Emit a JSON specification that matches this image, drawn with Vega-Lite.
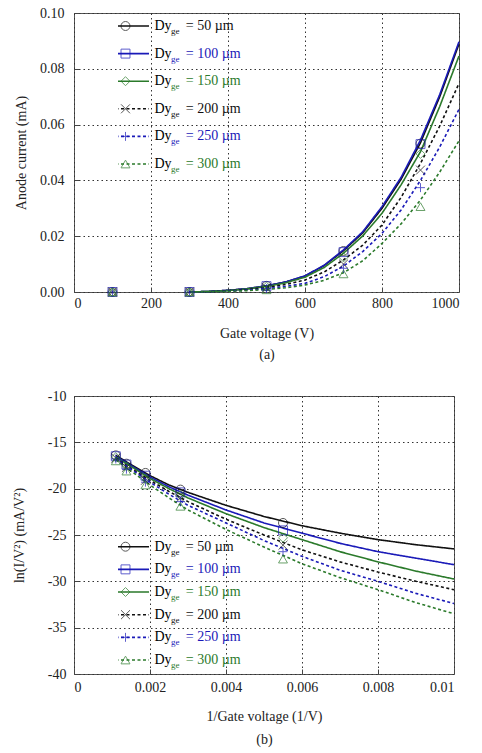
{
  "$schema": "https://vega.github.io/schema/vega-lite/v6.json",
  "autosize": {"type": "pad"},
  "padding": {"left": 11, "top": 5, "right": 0, "bottom": 0},
  "bounds": "flush",
  "spacing": 104,
  "config": {
    "font": "Liberation Serif",
    "view": {"stroke": "#555555", "strokeWidth": 1},
    "axis": {
      "labelFont": "Liberation Serif", "labelFontSize": 14, "labelColor": "#222222",
      "titleFont": "Liberation Serif", "titleFontSize": 14, "titleFontWeight": "normal", "titleColor": "#222222",
      "gridColor": "#333333", "gridDash": [1.5, 3], "gridOpacity": 1, "gridWidth": 1,
      "domain": false, "ticks": true, "tickSize": -5, "tickColor": "#444444", "tickWidth": 1
    },
    "legend": {"labelFont": "Liberation Serif"}
  },
  "datasets": {
    "topLines": [
      {"V":300,"I":0,"series":"50"},{"V":350,"I":0.0002,"series":"50"},{"V":400,"I":0.0006,"series":"50"},{"V":450,"I":0.0012,"series":"50"},{"V":500,"I":0.0022,"series":"50"},{"V":550,"I":0.0036,"series":"50"},{"V":600,"I":0.0057,"series":"50"},{"V":650,"I":0.0095,"series":"50"},{"V":700,"I":0.0148,"series":"50"},{"V":750,"I":0.0212,"series":"50"},{"V":800,"I":0.0300,"series":"50"},{"V":850,"I":0.0405,"series":"50"},{"V":900,"I":0.0535,"series":"50"},{"V":950,"I":0.0700,"series":"50"},{"V":1000,"I":0.0889,"series":"50"},
      {"V":300,"I":0,"series":"100"},{"V":350,"I":0.0002,"series":"100"},{"V":400,"I":0.0006,"series":"100"},{"V":450,"I":0.0012,"series":"100"},{"V":500,"I":0.0022,"series":"100"},{"V":550,"I":0.0036,"series":"100"},{"V":600,"I":0.0058,"series":"100"},{"V":650,"I":0.0096,"series":"100"},{"V":700,"I":0.0151,"series":"100"},{"V":750,"I":0.0216,"series":"100"},{"V":800,"I":0.0306,"series":"100"},{"V":850,"I":0.0412,"series":"100"},{"V":900,"I":0.0545,"series":"100"},{"V":950,"I":0.0708,"series":"100"},{"V":1000,"I":0.0897,"series":"100"},
      {"V":300,"I":0,"series":"150"},{"V":350,"I":0.0002,"series":"150"},{"V":400,"I":0.0005,"series":"150"},{"V":450,"I":0.0011,"series":"150"},{"V":500,"I":0.0020,"series":"150"},{"V":550,"I":0.0033,"series":"150"},{"V":600,"I":0.0053,"series":"150"},{"V":650,"I":0.0088,"series":"150"},{"V":700,"I":0.0139,"series":"150"},{"V":750,"I":0.0201,"series":"150"},{"V":800,"I":0.0282,"series":"150"},{"V":850,"I":0.0385,"series":"150"},{"V":900,"I":0.0503,"series":"150"},{"V":950,"I":0.0665,"series":"150"},{"V":1000,"I":0.0846,"series":"150"},
      {"V":300,"I":0,"series":"200"},{"V":350,"I":0.0001,"series":"200"},{"V":400,"I":0.0004,"series":"200"},{"V":450,"I":0.0009,"series":"200"},{"V":500,"I":0.0016,"series":"200"},{"V":550,"I":0.0027,"series":"200"},{"V":600,"I":0.0043,"series":"200"},{"V":650,"I":0.0072,"series":"200"},{"V":700,"I":0.0115,"series":"200"},{"V":750,"I":0.0168,"series":"200"},{"V":800,"I":0.0240,"series":"200"},{"V":850,"I":0.0340,"series":"200"},{"V":900,"I":0.0461,"series":"200"},{"V":950,"I":0.0595,"series":"200"},{"V":1000,"I":0.0748,"series":"200"},
      {"V":300,"I":0,"series":"250"},{"V":350,"I":0.0001,"series":"250"},{"V":400,"I":0.0003,"series":"250"},{"V":450,"I":0.0007,"series":"250"},{"V":500,"I":0.0012,"series":"250"},{"V":550,"I":0.0020,"series":"250"},{"V":600,"I":0.0031,"series":"250"},{"V":650,"I":0.0055,"series":"250"},{"V":700,"I":0.0093,"series":"250"},{"V":750,"I":0.0145,"series":"250"},{"V":800,"I":0.0210,"series":"250"},{"V":850,"I":0.0295,"series":"250"},{"V":900,"I":0.0400,"series":"250"},{"V":950,"I":0.0520,"series":"250"},{"V":1000,"I":0.0655,"series":"250"},
      {"V":300,"I":0,"series":"300"},{"V":350,"I":0.0001,"series":"300"},{"V":400,"I":0.0002,"series":"300"},{"V":450,"I":0.0005,"series":"300"},{"V":500,"I":0.0009,"series":"300"},{"V":550,"I":0.0015,"series":"300"},{"V":600,"I":0.0025,"series":"300"},{"V":650,"I":0.0042,"series":"300"},{"V":700,"I":0.0069,"series":"300"},{"V":750,"I":0.0112,"series":"300"},{"V":800,"I":0.0174,"series":"300"},{"V":850,"I":0.0245,"series":"300"},{"V":900,"I":0.0330,"series":"300"},{"V":950,"I":0.0430,"series":"300"},{"V":1000,"I":0.0542,"series":"300"}
    ],
    "topPts": [
      {"V":100,"I":0,"mk":"p50"},{"V":300,"I":0,"mk":"p50"},{"V":500,"I":0.0022,"mk":"p50"},{"V":700,"I":0.0147,"mk":"p50"},{"V":900,"I":0.0532,"mk":"p50"},
      {"V":100,"I":0,"mk":"p100"},{"V":300,"I":0,"mk":"p100"},{"V":500,"I":0.0021,"mk":"p100"},{"V":700,"I":0.0143,"mk":"p100"},{"V":900,"I":0.0530,"mk":"p100"},
      {"V":100,"I":0,"mk":"p150"},{"V":300,"I":0,"mk":"p150"},{"V":500,"I":0.0019,"mk":"p150"},{"V":700,"I":0.0124,"mk":"p150"},{"V":900,"I":0.0495,"mk":"p150"},
      {"V":100,"I":0,"mk":"p200"},{"V":300,"I":0,"mk":"p200"},{"V":500,"I":0.0015,"mk":"p200"},{"V":700,"I":0.0100,"mk":"p200"},{"V":900,"I":0.0437,"mk":"p200"},
      {"V":100,"I":0,"mk":"p250"},{"V":300,"I":0,"mk":"p250"},{"V":500,"I":0.0012,"mk":"p250"},{"V":700,"I":0.0085,"mk":"p250"},{"V":900,"I":0.0374,"mk":"p250"},
      {"V":100,"I":0,"mk":"p300"},{"V":300,"I":0,"mk":"p300"},{"V":500,"I":0.0008,"mk":"p300"},{"V":700,"I":0.0065,"mk":"p300"},{"V":900,"I":0.0306,"mk":"p300"}
    ],
    "botLines": [
      {"x":0.0011,"y":-16.4,"series":"50"},{"x":0.0015,"y":-17.4,"series":"50"},{"x":0.002,"y":-18.6,"series":"50"},{"x":0.0025,"y":-19.6,"series":"50"},{"x":0.003,"y":-20.4,"series":"50"},{"x":0.004,"y":-21.8,"series":"50"},{"x":0.005,"y":-23.0,"series":"50"},{"x":0.006,"y":-24.0,"series":"50"},{"x":0.007,"y":-24.8,"series":"50"},{"x":0.008,"y":-25.5,"series":"50"},{"x":0.009,"y":-26.05,"series":"50"},{"x":0.01,"y":-26.5,"series":"50"},
      {"x":0.0011,"y":-16.5,"series":"100"},{"x":0.0015,"y":-17.5,"series":"100"},{"x":0.002,"y":-18.75,"series":"100"},{"x":0.0025,"y":-19.8,"series":"100"},{"x":0.003,"y":-20.7,"series":"100"},{"x":0.004,"y":-22.3,"series":"100"},{"x":0.005,"y":-23.7,"series":"100"},{"x":0.006,"y":-24.8,"series":"100"},{"x":0.007,"y":-25.9,"series":"100"},{"x":0.008,"y":-26.8,"series":"100"},{"x":0.009,"y":-27.5,"series":"100"},{"x":0.01,"y":-28.2,"series":"100"},
      {"x":0.0011,"y":-16.6,"series":"150"},{"x":0.0015,"y":-17.6,"series":"150"},{"x":0.002,"y":-18.9,"series":"150"},{"x":0.0025,"y":-20.0,"series":"150"},{"x":0.003,"y":-21.0,"series":"150"},{"x":0.004,"y":-22.7,"series":"150"},{"x":0.005,"y":-24.2,"series":"150"},{"x":0.006,"y":-25.5,"series":"150"},{"x":0.007,"y":-26.8,"series":"150"},{"x":0.008,"y":-27.9,"series":"150"},{"x":0.009,"y":-28.9,"series":"150"},{"x":0.01,"y":-29.75,"series":"150"},
      {"x":0.0011,"y":-16.7,"series":"200"},{"x":0.0015,"y":-17.8,"series":"200"},{"x":0.002,"y":-19.1,"series":"200"},{"x":0.0025,"y":-20.3,"series":"200"},{"x":0.003,"y":-21.4,"series":"200"},{"x":0.004,"y":-23.3,"series":"200"},{"x":0.005,"y":-25.0,"series":"200"},{"x":0.006,"y":-26.6,"series":"200"},{"x":0.007,"y":-27.9,"series":"200"},{"x":0.008,"y":-29.0,"series":"200"},{"x":0.009,"y":-30.0,"series":"200"},{"x":0.01,"y":-30.9,"series":"200"},
      {"x":0.0011,"y":-16.8,"series":"250"},{"x":0.0015,"y":-17.9,"series":"250"},{"x":0.002,"y":-19.3,"series":"250"},{"x":0.0025,"y":-20.6,"series":"250"},{"x":0.003,"y":-21.8,"series":"250"},{"x":0.004,"y":-23.7,"series":"250"},{"x":0.005,"y":-25.6,"series":"250"},{"x":0.006,"y":-27.3,"series":"250"},{"x":0.007,"y":-28.8,"series":"250"},{"x":0.008,"y":-30.0,"series":"250"},{"x":0.009,"y":-31.3,"series":"250"},{"x":0.01,"y":-32.4,"series":"250"},
      {"x":0.0011,"y":-16.9,"series":"300"},{"x":0.0015,"y":-18.1,"series":"300"},{"x":0.002,"y":-19.6,"series":"300"},{"x":0.0025,"y":-21.0,"series":"300"},{"x":0.003,"y":-22.3,"series":"300"},{"x":0.004,"y":-24.4,"series":"300"},{"x":0.005,"y":-26.3,"series":"300"},{"x":0.006,"y":-28.1,"series":"300"},{"x":0.007,"y":-29.6,"series":"300"},{"x":0.008,"y":-30.9,"series":"300"},{"x":0.009,"y":-32.3,"series":"300"},{"x":0.01,"y":-33.5,"series":"300"}
    ],
    "botPts": [
      {"x":0.0011,"y":-16.4,"mk":"p50"},{"x":0.00138,"y":-17.3,"mk":"p50"},{"x":0.00188,"y":-18.3,"mk":"p50"},{"x":0.0028,"y":-20.1,"mk":"p50"},{"x":0.0055,"y":-23.7,"mk":"p50"},
      {"x":0.0011,"y":-16.5,"mk":"p100"},{"x":0.00138,"y":-17.4,"mk":"p100"},{"x":0.00188,"y":-18.6,"mk":"p100"},{"x":0.0028,"y":-20.4,"mk":"p100"},{"x":0.0055,"y":-24.5,"mk":"p100"},
      {"x":0.0011,"y":-16.6,"mk":"p150"},{"x":0.00138,"y":-17.6,"mk":"p150"},{"x":0.00188,"y":-18.9,"mk":"p150"},{"x":0.0028,"y":-20.7,"mk":"p150"},{"x":0.0055,"y":-25.3,"mk":"p150"},
      {"x":0.0011,"y":-16.7,"mk":"p200"},{"x":0.00138,"y":-17.7,"mk":"p200"},{"x":0.00188,"y":-19.1,"mk":"p200"},{"x":0.0028,"y":-21.0,"mk":"p200"},{"x":0.0055,"y":-26.1,"mk":"p200"},
      {"x":0.0011,"y":-16.8,"mk":"p250"},{"x":0.00138,"y":-17.9,"mk":"p250"},{"x":0.00188,"y":-19.3,"mk":"p250"},{"x":0.0028,"y":-21.4,"mk":"p250"},{"x":0.0055,"y":-26.8,"mk":"p250"},
      {"x":0.0011,"y":-17.0,"mk":"p300"},{"x":0.00138,"y":-18.1,"mk":"p300"},{"x":0.00188,"y":-19.6,"mk":"p300"},{"x":0.0028,"y":-21.9,"mk":"p300"},{"x":0.0055,"y":-27.6,"mk":"p300"}
    ]
  },
  "resolve": {
    "scale": {"color": "independent", "strokeDash": "independent", "stroke": "independent", "shape": "independent", "fill": "independent"},
    "legend": {"color": "independent", "strokeDash": "independent", "stroke": "independent", "shape": "independent", "fill": "independent"}
  },
  "vconcat": [
    {
      "width": 385, "height": 279,
      "layer": [
        {
          "data": {"name": "topLines"},
          "mark": {"type": "line", "strokeWidth": 1.6},
          "encoding": {
            "x": {"field": "V", "type": "quantitative", "scale": {"domain": [0, 1000], "nice": false},
                  "axis": {"values": [0, 200, 400, 600, 800, 1000], "format": "d", "labelPadding": 9, "title": ["Gate voltage (V)", "(a)"], "titlePadding": 16, "titleLineHeight": 21.7}},
            "y": {"field": "I", "type": "quantitative", "scale": {"domain": [0, 0.1], "nice": false},
                  "axis": {"values": [0, 0.02, 0.04, 0.06, 0.08, 0.1], "format": ".2f", "labelPadding": 15, "title": "Anode current (mA)", "titlePadding": 11}},
            "color": {"field": "series", "type": "nominal",
                      "scale": {"domain": ["50","100","150","200","250","300"], "range": ["#111111","#1a1ab8","#2b7a2b","#111111","#1a1ab8","#2b7a2b"]},
                      "legend": {"title": null, "orient": "none", "legendX": 44, "legendY": 1, "direction": "vertical", "padding": 0, "symbolType": "M-5,0H5", "symbolSize": 100, "symbolStrokeWidth": 1.6, "labelExpr": "'ge'", "labelFontSize": 9, "labelOffset": 41, "clipHeight": 24, "rowPadding": 3.6,
                                 "encode": {"labels": {"update": {"dy": {"value": 5}, "fill": {"signal": "datum.value === '100' || datum.value === '250' ? '#1a1ab8' : (datum.value === '150' || datum.value === '300' ? '#2b7a2b' : '#111111')"}}}}}},
            "strokeDash": {"field": "series", "type": "nominal",
                      "scale": {"domain": ["50","100","150","200","250","300"], "range": [[1,0],[1,0],[1,0],[3,2.5],[3,2.5],[3,2.5]]},
                      "legend": {"title": null, "orient": "none", "legendX": 44, "legendY": 1, "direction": "vertical", "padding": 0, "symbolType": "M-5,0H5", "symbolSize": 100, "symbolStrokeWidth": 1.6, "labelExpr": "'ge'", "labelFontSize": 9, "labelOffset": 41, "clipHeight": 24, "rowPadding": 3.6,
                                 "encode": {"labels": {"update": {"dy": {"value": 5}, "fill": {"signal": "datum.value === '100' || datum.value === '250' ? '#1a1ab8' : (datum.value === '150' || datum.value === '300' ? '#2b7a2b' : '#111111')"}}}}}}
          }
        },
        {
          "data": {"name": "topPts"},
          "mark": {"type": "point", "filled": false, "size": 80, "strokeWidth": 1},
          "encoding": {
            "x": {"field": "V", "type": "quantitative"},
            "y": {"field": "I", "type": "quantitative"},
            "stroke": {"field": "mk", "type": "nominal",
                       "scale": {"domain": ["p50","p100","p150","p200","p250","p300"], "range": ["#111111","#1a1ab8","#2b7a2b","#111111","#1a1ab8","#2b7a2b"]},
                       "legend": {"title": null, "orient": "none", "legendX": 44.5, "legendY": 1, "direction": "vertical", "padding": 0, "symbolSize": 80, "symbolStrokeWidth": 1, "symbolFillColor": "transparent", "labelExpr": "'Dy'", "labelFontSize": 14, "labelOffset": 22, "clipHeight": 24, "rowPadding": 3.6,
                                  "encode": {"symbols": {"update": {"fill": {"value": "transparent"}}}, "labels": {"update": {"fill": {"signal": "datum.value === 'p100' || datum.value === 'p250' ? '#1a1ab8' : (datum.value === 'p150' || datum.value === 'p300' ? '#2b7a2b' : '#111111')"}}}}}},
            "shape": {"field": "mk", "type": "nominal",
                       "scale": {"domain": ["p50","p100","p150","p200","p250","p300"], "range": ["circle","square","diamond","M-1,-1L1,1M-1,1L1,-1","M-1,0H1M0,-1V1","triangle-up"]},
                       "legend": {"title": null, "orient": "none", "legendX": 44.5, "legendY": 1, "direction": "vertical", "padding": 0, "symbolSize": 80, "symbolStrokeWidth": 1, "symbolFillColor": "transparent", "labelExpr": "'Dy'", "labelFontSize": 14, "labelOffset": 22, "clipHeight": 24, "rowPadding": 3.6,
                                  "encode": {"symbols": {"update": {"fill": {"value": "transparent"}}}, "labels": {"update": {"fill": {"signal": "datum.value === 'p100' || datum.value === 'p250' ? '#1a1ab8' : (datum.value === 'p150' || datum.value === 'p300' ? '#2b7a2b' : '#111111')"}}}}}},
            "fill": {"field": "mk", "type": "nominal",
                       "scale": {"domain": ["p50","p100","p150","p200","p250","p300","unused"], "range": ["transparent","transparent","transparent","transparent","transparent","transparent","transparent"]},
                       "legend": {"title": null, "values": ["p50","p100","p150","p200","p250","p300"], "orient": "none", "legendX": 44.5, "legendY": 1, "direction": "vertical", "padding": 0, "symbolSize": 80, "symbolOpacity": 0, "symbolStrokeWidth": 0, "labelExpr": "'= ' + replace(datum.label, 'p', '') + ' \u00b5m'", "labelFontSize": 14, "labelOffset": 53.3, "clipHeight": 24, "rowPadding": 3.6,
                                  "encode": {"labels": {"update": {"fill": {"signal": "datum.value === 'p100' || datum.value === 'p250' ? '#1a1ab8' : (datum.value === 'p150' || datum.value === 'p300' ? '#2b7a2b' : '#111111')"}}}}}}
          }
        }
      ]
    },
    {
      "width": 380, "height": 278,
      "layer": [
        {
          "data": {"name": "botLines"},
          "mark": {"type": "line", "strokeWidth": 1.6},
          "encoding": {
            "x": {"field": "x", "type": "quantitative", "scale": {"domain": [0, 0.01], "nice": false},
                  "axis": {"values": [0, 0.002, 0.004, 0.006, 0.008, 0.01], "labelExpr": "'' + datum.value", "labelPadding": 11, "title": ["1/Gate voltage (1/V)", "(b)"], "titlePadding": 15.5, "titleLineHeight": 23.3}},
            "y": {"field": "y", "type": "quantitative", "scale": {"domain": [-40, -10], "nice": false},
                  "axis": {"values": [-40, -35, -30, -25, -20, -15, -10], "labelExpr": "'' + datum.value", "labelPadding": 13, "title": "ln(I/V\u00b2) (mA/V\u00b2)", "titlePadding": 21}},
            "color": {"field": "series", "type": "nominal",
                      "scale": {"domain": ["50","100","150","200","250","300"], "range": ["#111111","#1a1ab8","#2b7a2b","#111111","#1a1ab8","#2b7a2b"]},
                      "legend": {"title": null, "orient": "none", "legendX": 44, "legendY": 139.7, "direction": "vertical", "padding": 0, "symbolType": "M-5,0H5", "symbolSize": 100, "symbolStrokeWidth": 1.6, "labelExpr": "'ge'", "labelFontSize": 9, "labelOffset": 41, "clipHeight": 22, "rowPadding": 0.66,
                                 "encode": {"labels": {"update": {"dy": {"value": 5}, "fill": {"signal": "datum.value === '100' || datum.value === '250' ? '#1a1ab8' : (datum.value === '150' || datum.value === '300' ? '#2b7a2b' : '#111111')"}}}}}},
            "strokeDash": {"field": "series", "type": "nominal",
                      "scale": {"domain": ["50","100","150","200","250","300"], "range": [[1,0],[1,0],[1,0],[3,2.5],[3,2.5],[3,2.5]]},
                      "legend": {"title": null, "orient": "none", "legendX": 44, "legendY": 139.7, "direction": "vertical", "padding": 0, "symbolType": "M-5,0H5", "symbolSize": 100, "symbolStrokeWidth": 1.6, "labelExpr": "'ge'", "labelFontSize": 9, "labelOffset": 41, "clipHeight": 22, "rowPadding": 0.66,
                                 "encode": {"labels": {"update": {"dy": {"value": 5}, "fill": {"signal": "datum.value === '100' || datum.value === '250' ? '#1a1ab8' : (datum.value === '150' || datum.value === '300' ? '#2b7a2b' : '#111111')"}}}}}}
          }
        },
        {
          "data": {"name": "botPts"},
          "mark": {"type": "point", "filled": false, "size": 80, "strokeWidth": 1},
          "encoding": {
            "x": {"field": "x", "type": "quantitative"},
            "y": {"field": "y", "type": "quantitative"},
            "stroke": {"field": "mk", "type": "nominal",
                       "scale": {"domain": ["p50","p100","p150","p200","p250","p300"], "range": ["#111111","#1a1ab8","#2b7a2b","#111111","#1a1ab8","#2b7a2b"]},
                       "legend": {"title": null, "orient": "none", "legendX": 44.5, "legendY": 139.7, "direction": "vertical", "padding": 0, "symbolSize": 80, "symbolStrokeWidth": 1, "symbolFillColor": "transparent", "labelExpr": "'Dy'", "labelFontSize": 14, "labelOffset": 22, "clipHeight": 22, "rowPadding": 0.66,
                                  "encode": {"symbols": {"update": {"fill": {"value": "transparent"}}}, "labels": {"update": {"fill": {"signal": "datum.value === 'p100' || datum.value === 'p250' ? '#1a1ab8' : (datum.value === 'p150' || datum.value === 'p300' ? '#2b7a2b' : '#111111')"}}}}}},
            "shape": {"field": "mk", "type": "nominal",
                       "scale": {"domain": ["p50","p100","p150","p200","p250","p300"], "range": ["circle","square","diamond","M-1,-1L1,1M-1,1L1,-1","M-1,0H1M0,-1V1","triangle-up"]},
                       "legend": {"title": null, "orient": "none", "legendX": 44.5, "legendY": 139.7, "direction": "vertical", "padding": 0, "symbolSize": 80, "symbolStrokeWidth": 1, "symbolFillColor": "transparent", "labelExpr": "'Dy'", "labelFontSize": 14, "labelOffset": 22, "clipHeight": 22, "rowPadding": 0.66,
                                  "encode": {"symbols": {"update": {"fill": {"value": "transparent"}}}, "labels": {"update": {"fill": {"signal": "datum.value === 'p100' || datum.value === 'p250' ? '#1a1ab8' : (datum.value === 'p150' || datum.value === 'p300' ? '#2b7a2b' : '#111111')"}}}}}},
            "fill": {"field": "mk", "type": "nominal",
                       "scale": {"domain": ["p50","p100","p150","p200","p250","p300","unused"], "range": ["transparent","transparent","transparent","transparent","transparent","transparent","transparent"]},
                       "legend": {"title": null, "values": ["p50","p100","p150","p200","p250","p300"], "orient": "none", "legendX": 44.5, "legendY": 139.7, "direction": "vertical", "padding": 0, "symbolSize": 80, "symbolOpacity": 0, "symbolStrokeWidth": 0, "labelExpr": "'= ' + replace(datum.label, 'p', '') + ' \u00b5m'", "labelFontSize": 14, "labelOffset": 53.3, "clipHeight": 22, "rowPadding": 0.66,
                                  "encode": {"labels": {"update": {"fill": {"signal": "datum.value === 'p100' || datum.value === 'p250' ? '#1a1ab8' : (datum.value === 'p150' || datum.value === 'p300' ? '#2b7a2b' : '#111111')"}}}}}}
          }
        }
      ]
    }
  ]
}
